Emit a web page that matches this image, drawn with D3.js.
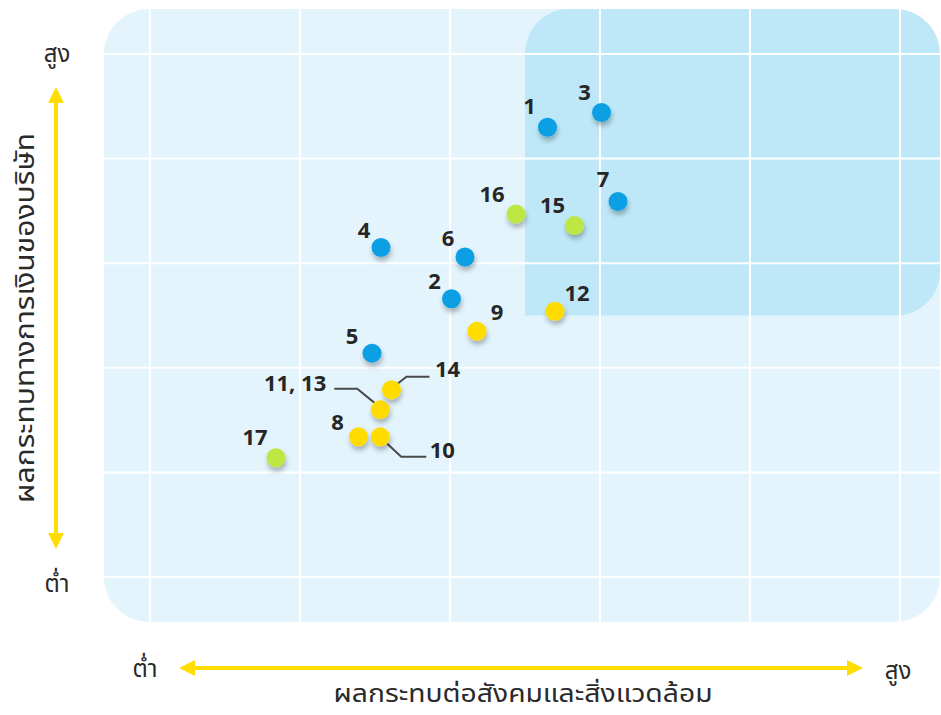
<!DOCTYPE html>
<html>
<head>
<meta charset="utf-8">
<script src="https://cdn.jsdelivr.net/npm/d3@7"></script>
<style>
  body { margin: 0; background: #fff; }
  svg { display: block; }
  .num { font-family: "Noto Sans", "Open Sans", sans-serif; font-weight: 700; font-size: 22px; fill: #262626; }
  .thai { font-family: "Noto Sans Thai", "Noto Sans Thai UI", "Noto Sans", sans-serif; fill: #2a2a2a; }
</style>
</head>
<body>
<div id="chart"></div>
<script>
// data (scale 0..5 on both axes)
const labels = ["1", "2", "3", "4", "5", "6", "7", "8", "9", "10", "11, 13", "12", "14", "15", "16", "17"];
const socialImpact = [2.65, 2.01, 3.01, 1.54, 1.48, 2.1, 3.12, 1.39, 2.18, 1.535, 1.535, 2.7, 1.61, 2.83, 2.44, 0.84];
const financialImpact = [4.3, 2.66, 4.44, 3.15, 2.14, 3.06, 3.59, 1.34, 2.35, 1.34, 1.6, 2.54, 1.79, 3.36, 3.47, 1.14];
const groups = ["a", "a", "a", "a", "a", "a", "a", "b", "b", "b", "b", "b", "b", "c", "c", "c"];
const gridTicks = [0, 1, 2, 3, 4, 5];
const focusFrom = 2.5;

const xTitle = "ผลกระทบต่อสังคมและสิ่งแวดล้อม";
const yTitle = "ผลกระทบทางการเงินของบริษัท";
const lowText = "ต่ำ";
const highText = "สูง";

// layout only
const W = 941, H = 715;
const colors = { a: "#0a9fe4", b: "#ffdc00", c: "#bde743" };
const labelPos = {
  "1": [-18, -13], "2": [-17, -10], "3": [-17, -13], "4": [-17, -10], "5": [-20, -9],
  "6": [-17, -11], "7": [-15, -14], "8": [-21, -7], "9": [20, -11], "12": [22, -10],
  "15": [-22, -13], "16": [-24, -12], "17": [-21, -13],
  "14": [56, -13, "middle"], "11, 13": [-54, -19, "end"], "10": [62, 21, "middle"]
};
const leaders = {
  "11, 13": [[-46, -21], [-23, -21], [-6, -7]],
  "14": [[38, -13], [15, -13], [6, -6]],
  "10": [[7, 7], [21, 20], [46, 20]]
};

const x = d3.scaleLinear().domain([0, 5]).range([150, 900]);
const y = d3.scaleLinear().domain([0, 5]).range([577, 54]);

const svg = d3.select("#chart").append("svg").attr("width", W).attr("height", H);
const defs = svg.append("defs");

const bg = { x: 104, y: 9, w: 836, h: 613, r: 45 };

defs.append("clipPath").attr("id", "bgClip")
  .append("rect").attr("x", bg.x).attr("y", bg.y).attr("width", bg.w).attr("height", bg.h).attr("rx", bg.r);

let f = defs.append("filter").attr("id", "shadow").attr("x", "-50%").attr("y", "-50%").attr("width", "200%").attr("height", "200%");
f.append("feDropShadow").attr("dx", 1).attr("dy", 4).attr("stdDeviation", 2.5)
  .attr("flood-color", "#000").attr("flood-opacity", 0.28);

const plot = svg.append("g").attr("clip-path", "url(#bgClip)");

plot.append("rect")
  .attr("x", bg.x).attr("y", bg.y).attr("width", bg.w).attr("height", bg.h)
  .attr("fill", "#e3f4fc");

// highlighted quadrant (rounded except bottom-left)
let hx0 = x(focusFrom), hy1 = y(focusFrom), hx1 = bg.x + bg.w, hy0 = bg.y, r = 44;
let p = d3.path();
p.moveTo(hx0, hy1);
p.lineTo(hx0, hy0 + r);
p.arcTo(hx0, hy0, hx0 + r, hy0, r);
p.lineTo(hx1 - r, hy0);
p.arcTo(hx1, hy0, hx1, hy0 + r, r);
p.lineTo(hx1, hy1 - r);
p.arcTo(hx1, hy1, hx1 - r, hy1, r);
p.closePath();
plot.append("path").attr("d", p.toString()).attr("fill", "#bee8f8");

// grid
plot.selectAll(".vg").data(gridTicks).enter().append("line")
  .attr("x1", d => x(d)).attr("x2", d => x(d))
  .attr("y1", bg.y).attr("y2", bg.y + bg.h)
  .attr("stroke", "#fff").attr("stroke-width", 2);
plot.selectAll(".hg").data(gridTicks).enter().append("line")
  .attr("y1", d => y(d)).attr("y2", d => y(d))
  .attr("x1", bg.x).attr("x2", bg.x + bg.w)
  .attr("stroke", "#fff").attr("stroke-width", 2);

const pts = labels.map((l, i) => ({ label: l, px: x(socialImpact[i]), py: y(financialImpact[i]), g: groups[i] }));

// leader lines
const line = d3.line();
svg.selectAll(".leader").data(pts.filter(d => leaders[d.label])).enter().append("path")
  .attr("d", d => line(leaders[d.label].map(o => [d.px + o[0], d.py + o[1]])))
  .attr("fill", "none").attr("stroke", "#4a4a4a").attr("stroke-width", 2);

svg.selectAll(".dot").data(pts).enter().append("circle")
  .attr("cx", d => d.px).attr("cy", d => d.py).attr("r", 9.5)
  .attr("fill", d => colors[d.g]).attr("filter", "url(#shadow)");

svg.selectAll(".lbl").data(pts).enter().append("text")
  .attr("class", "num")
  .attr("x", d => d.px + labelPos[d.label][0])
  .attr("y", d => d.py + labelPos[d.label][1])
  .attr("text-anchor", d => labelPos[d.label][2] || "middle")
  .text(d => d.label);

// axis arrows
const yellow = "#ffdd00";
function arrowHead(tipX, tipY, dir) {
  // dir: [ux, uy] pointing direction
  let L = 16, Wd = 8;
  let bx = tipX - dir[0] * L, by = tipY - dir[1] * L;
  return `M${tipX},${tipY}L${bx - dir[1] * Wd},${by + dir[0] * Wd}L${bx + dir[1] * Wd},${by - dir[0] * Wd}Z`;
}
svg.append("line").attr("x1", 56).attr("x2", 56).attr("y1", 100).attr("y2", 536)
  .attr("stroke", yellow).attr("stroke-width", 4);
svg.append("path").attr("d", arrowHead(56, 87, [0, -1])).attr("fill", yellow);
svg.append("path").attr("d", arrowHead(56, 549, [0, 1])).attr("fill", yellow);

svg.append("line").attr("x1", 192).attr("x2", 850).attr("y1", 668).attr("y2", 668)
  .attr("stroke", yellow).attr("stroke-width", 4);
svg.append("path").attr("d", arrowHead(179, 668, [-1, 0])).attr("fill", yellow);
svg.append("path").attr("d", arrowHead(863, 668, [1, 0])).attr("fill", yellow);

svg.append("text").attr("class", "thai").attr("x", 57).attr("y", 62).attr("text-anchor", "middle")
  .attr("font-size", 24).text(highText);
svg.append("text").attr("class", "thai").attr("x", 57).attr("y", 592).attr("text-anchor", "middle")
  .attr("font-size", 24).text(lowText);
svg.append("text").attr("class", "thai").attr("x", 145).attr("y", 677).attr("text-anchor", "middle")
  .attr("font-size", 24).text(lowText);
svg.append("text").attr("class", "thai").attr("x", 898).attr("y", 679).attr("text-anchor", "middle")
  .attr("font-size", 24).text(highText);

svg.append("text").attr("class", "thai").attr("x", 523).attr("y", 702).attr("text-anchor", "middle")
  .attr("font-size", 24).attr("textLength", 379).attr("lengthAdjust", "spacingAndGlyphs").text(xTitle);
svg.append("text").attr("class", "thai")
  .attr("transform", "translate(34,318) rotate(-90)")
  .attr("text-anchor", "middle").attr("font-size", 27)
  .attr("textLength", 370).attr("lengthAdjust", "spacingAndGlyphs").text(yTitle);
</script>
</body>
</html>
